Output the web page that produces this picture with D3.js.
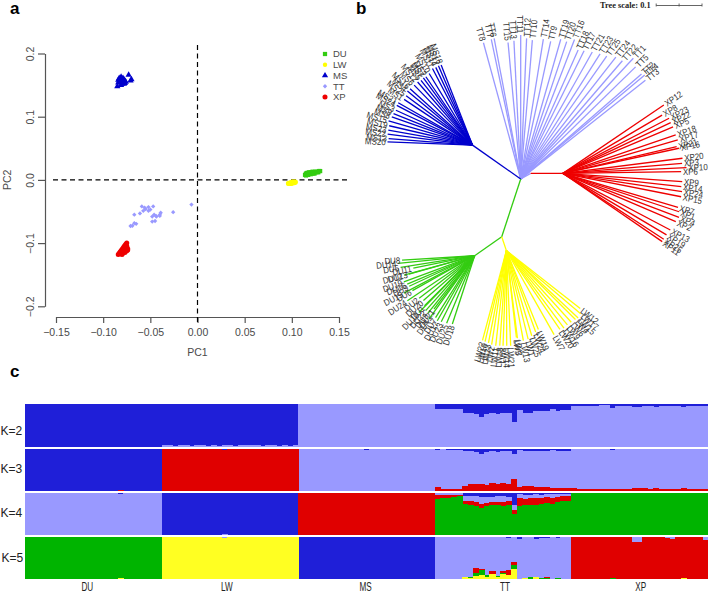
<!DOCTYPE html>
<html><head><meta charset="utf-8">
<script src="https://d3js.org/d3.v7.min.js"></script>
<style>html,body{margin:0;padding:0;background:#fff}svg{display:block}</style>
</head><body>
<svg id="c" width="708" height="592"></svg>
<script>
// ---------- panel a data (PC1, PC2) ----------
const pcTicksX=[-0.15,-0.10,-0.05,0,0.05,0.10,0.15];
const pcTicksY=[-0.2,-0.1,0,0.1,0.2];
const legendNames=["DU","LW","MS","TT","XP"];
const duX=[.114,.115,.115,.116,.116,.117,.117,.118,.118,.119,.119,.120,.120,.121,.122,.122,.123,.124,.124,.125,.126,.127,.128,.129,.130];
const duY=[.008,.010,.007,.009,.011,.008,.010,.009,.012,.010,.011,.009,.012,.011,.010,.013,.011,.012,.010,.013,.012,.013,.012,.014,.014];
const lwX=[.096,.096,.097,.097,.098,.098,.098,.099,.099,.099,.100,.100,.100,.100,.101,.101,.101,.102,.102,.102,.103,.103,.103,.104,.104];
const lwY=[-.006,-.005,-.006,-.005,-.006,-.005,-.004,-.006,-.005,-.004,-.006,-.005,-.004,-.003,-.005,-.004,-.003,-.005,-.004,-.003,-.004,-.003,-.005,-.003,-.004];
const msX=[-.085,-.084,-.083,-.083,-.082,-.082,-.081,-.081,-.081,-.080,-.080,-.080,-.079,-.079,-.079,-.078,-.078,-.078,-.077,-.077,-.076,-.073,-.071,-.070,-.084];
const msY=[.148,.154,.157,.161,.155,.158,.150,.154,.163,.152,.156,.160,.154,.158,.161,.152,.156,.159,.153,.157,.155,.166,.157,.159,.158];
const ttX=[-.0064,-.0258,-.039,-.040,-.0435,-.046,-.048,-.045,-.048,-.047,-.052,-.059,-.052,-.0575,-.061,-.067,-.065,-.067,-.071,-.069,-.055,-.044,-.040,-.050,-.056];
const ttY=[-.039,-.051,-.052,-.057,-.058,-.055,-.058,-.065,-.066,-.042,-.043,-.042,-.049,-.049,-.053,-.055,-.0695,-.0685,-.073,-.0725,-.046,-.057,-.055,-.047,-.044];
const xpX=[-.084,-.083,-.082,-.081,-.081,-.080,-.080,-.079,-.079,-.079,-.078,-.078,-.078,-.077,-.077,-.077,-.076,-.076,-.076,-.075,-.075,-.075,-.074,-.074,-.080];
const xpY=[-.118,-.116,-.114,-.117,-.112,-.115,-.110,-.108,-.113,-.116,-.106,-.110,-.114,-.104,-.109,-.115,-.102,-.107,-.113,-.100,-.105,-.112,-.109,-.111,-.118];

// ---------- panel b data: branch angle (deg) and length (tree units) ----------
const treeScaleTicks=[0,0.05,0.1];
const ttLabels=["TT8","TT7","TT6","TT15","TT13","TT11","TT12","TT10","TT14","TT9","TT19","TT20","TT16","TT18","TT17","TT21","TT23","TT25","TT24","TT22","TT1","TT5","TT2","TT4","TT3"];
const ttAngles=[254.7,258.1,259.3,264.7,267.2,270,272.4,274.8,279.2,282.3,286,288.5,291.1,294,296.3,299.4,302.4,305,308,310.7,313,315.7,319,320,321.6];
const ttLengths=[.307,.310,.311,.298,.301,.313,.306,.303,.308,.306,.316,.315,.325,.307,.311,.317,.322,.326,.336,.339,.359,.349,.348,.352,.346];
const xpLabels=["XP12","XP8","XP23","XP22","XP5","XP18","XP17","XP21","XP16","XP20","XP3","XP10","XP6","XP9","XP14","XP24","XP15","XP7","XP1","XP4","XP2","XP13","XP19","XP25","XP11"];
const xpAngles=[325.9,329.6,332.6,334.8,337.1,341.2,343.8,346.8,347.8,352.8,355.2,357.4,359.2,4,6.4,8.7,11.2,16.5,18.3,20.8,23.2,27.8,30.7,33.2,34.5];
const xpLengths=[.265,.250,.260,.259,.260,.259,.260,.254,.258,.262,.260,.269,.257,.260,.259,.262,.262,.261,.266,.270,.267,.264,.262,.262,.262];
const msLabels=["MS20","MS13","MS22","MS23","MS19","MS15","MS8","MS9","MS3","MS24","MS21","MS1","MS25","MS4","MS16","MS6","MS12","MS5","MS7","MS2","MS10","MS11","MS14","MS17","MS18"];
const msAngles=[182.2,184.5,187.4,190.1,193.1,196.2,199.3,201.8,204.5,207.7,209.7,213.8,216.7,219.7,222.1,225.8,229,231.5,233.8,235.7,238.8,242.4,244.7,246.8,248.6];
const msLengths=[.185,.183,.186,.186,.186,.190,.186,.185,.183,.186,.186,.179,.180,.184,.183,.182,.182,.180,.181,.180,.182,.188,.187,.188,.187];
const duLabels=["DU8","DU14","DU5","DU11","DU12","DU13","DU19","DU16","DU9","DU15","DU6","DU24","DU2","DU20","DU1","DU10","DU22","DU3","DU21","DU4","DU7","DU17","DU23","DU25","DU18"];
const duAngles=[176.6,174.3,171,168.6,164.7,164.4,159.8,157.2,155,152.2,150.7,146.2,142.5,138.8,135,134.5,131.7,129.1,127.3,125.8,122.3,119.9,116.8,112.5,108.1];
const duLengths=[.158,.167,.163,.136,.159,.148,.164,.159,.157,.174,.155,.176,.152,.148,.154,.173,.160,.161,.146,.170,.159,.163,.161,.159,.156];
const lwLabels=["LW12","LW17","LW15","LW4","LW6","LW9","LW16","LW20","LW7","LW19","LW24","LW25","LW1","LW13","LW3","LW5","LW21","LW14","LW8","LW18","LW11","LW2","LW23","LW10","LW22"];
const lwAngles=[38.1,40.4,43.2,44.9,47.8,50.6,53.4,55.8,60.4,67.9,70.2,73.4,76.2,79.3,82.8,83.4,87.4,89.8,92,94,96.4,98.9,101,103.2,104.9];
const lwLengths=[.204,.212,.214,.212,.210,.209,.210,.207,.210,.185,.188,.193,.198,.199,.192,.190,.207,.207,.207,.207,.208,.207,.204,.203,.202];
// internal branches: angle, length
const stemMS=[215.1,.128], stemTT=[330.5,.025], stemXP=[0,.070], stemGreen=[108.2,.132], stemDU=[144.9,.072], stemLW=[71.6,.032];

// ---------- panel c data: ancestry fractions, per population of 25 samples ----------
const groupNames=["DU","LW","MS","TT","XP"];
const groupLabelShift=[-6,-3,-1,2,1];
const kLabels=["K=2","K=3","K=4","K=5"];
const kLabelY=[431,469,513,558];
const none=Array(25).fill(0), full=Array(25).fill(1);
const k2LwLight=[.03,.03,.02,.03,.03,.02,.03,.03,.02,.03,.02,.03,.03,.02,.03,.03,.03,.03,.02,.03,.03,.02,.03,.02,.03];
const k2TtDark=[.10,.10,.10,.10,.10,.21,.21,.23,.29,.23,.21,.23,.21,.195,.41,.13,.195,.195,.17,.17,.155,.12,.155,.14,.13];
const k2XpDark=[.045,.04,.04,.04,.045,.025,.025,.08,.04,.04,.04,.07,.055,.05,.05,.07,.05,.05,.05,.05,.075,.04,.04,.04,.04];
const k3TtDark=[.02,.01,.02,.02,.02,.04,.06,.07,.13,.07,.05,.07,.05,.05,.11,.03,.05,.05,.05,.05,.04,.03,.05,.04,.04];
const k3TtRed=[.095,.055,.055,.055,.06,.13,.16,.17,.16,.15,.19,.16,.19,.17,.29,.11,.13,.12,.11,.095,.095,.08,.08,.07,.07];
const k3XpRed=[.07,.06,.06,.055,.05,.05,.045,.06,.055,.05,.05,.065,.075,.07,.06,.065,.06,.055,.06,.05,.07,.06,.055,.05,.05];
const k3XpDark=[0,0,0,0,0,0,0,.02,0,0,0,0,0,0,0,0,0,0,0,0,0,0,0,0,0];
const k4TtDark=[0,0,0,0,0,.06,.08,.08,.10,.10,.10,.07,.08,.10,.28,.02,.05,.05,.03,.05,.03,.03,.03,.02,.02];
const k4TtLight=[.05,.05,.05,.05,.05,.12,.12,.14,.16,.13,.12,.14,.14,.10,.13,.10,.10,.07,.10,.07,.06,.09,.06,.06,.05];
const k4TtRed=[.09,.07,.06,.04,.02,.07,.08,.09,.09,.07,.07,.07,.08,.08,.08,.19,.14,.16,.15,.15,.14,.14,.12,.12,.12];
const k4XpLight=[0,0,0,0,0,0,0,.01,0,0,0,0,0,0,0,0,0,0,0,0,.01,0,0,0,0];
const k4XpRed=[0,0,0,0,0,0,0,0,0,0,0,0,.01,0,0,0,0,0,0,0,0,0,0,0,0];
const k5TtDark=[0,0,0,0,0,0,0,0,0,0,0,0,0,.02,.01,.06,0,0,.05,.02,.02,0,.04,0,.01];
const k5TtRed=[0,0,0,0,0,0,0,.12,.04,0,.07,0,.04,.125,.06,0,0,0,0,0,.025,0,.01,0,0];
const k5TtGreen=[0,0,0,0,0,.01,.03,.06,.12,.03,0,.03,.03,0,.095,0,.01,.03,0,.02,.025,0,.02,0,0];
const k5TtYellow=[0,0,0,0,0,.04,.02,.08,.09,.06,.11,.05,.11,.09,.245,0,.02,.01,.04,0,0,0,0,0,0];
const k5XpLight=[0,0,.015,.015,0,0,0,0,0,0,0,.12,.12,0,0,0,0,.03,.05,0,0,0,0,0,.08];
const k5XpGreen=[0,0,0,0,0,0,0,.02,0,0,0,0,0,0,0,0,0,0,0,0,0,0,0,0,0];
const k5XpYellow=[0,0,0,0,0,0,0,0,0,0,0,0,0,0,0,0,0,0,0,0,.02,0,0,0,0];
const spot=(i,v)=>none.map((d,j)=>j===i?v:0);
// ---------- styles ----------
const cDU="#33cc11",cLW="#ffff00",cMS="#0000cc",cTT="#9999ff",cXP="#ee0000";
const sDark="#1f1fd8",sLight="#9999ff",sRed="#e00000",sGreen="#00b400",sYellow="#ffff22";
const sans="'Liberation Sans',Arial,sans-serif";

const svg=d3.select("#c").style("font-family",sans);
[["a",10,14],["b",356,14],["c",10,377]].forEach(([t,x,y])=>svg.append("text").attr("x",x).attr("y",y).attr("font-size",17).attr("font-weight","bold").text(t));

// ========== panel a ==========
const px=d3.scaleLinear([-0.15,0.15],[56,339]);
const py=d3.scaleLinear([-0.2,0.2],[306.3,53.5]);
const axisCol="#555", txtCol="#4a4a4a";
const ax=svg.append("g").attr("transform","translate(0,317)").call(d3.axisBottom(px).tickValues(pcTicksX).tickFormat(d3.format(".2f")).tickSize(6).tickSizeOuter(0));
const ay=svg.append("g").attr("transform","translate(45,0)").call(d3.axisLeft(py).tickValues(pcTicksY).tickFormat(d3.format(".1f")).tickSize(7).tickSizeOuter(0));
[ax,ay].forEach(g=>{g.selectAll("path,line").attr("stroke",axisCol).attr("stroke-width",1.2);
  g.selectAll("text").attr("fill",txtCol).attr("font-size",10.5).attr("font-family",sans);});
ax.selectAll("text").attr("y",12).attr("dy","0.71em");
ay.selectAll("text").attr("transform","rotate(-90)").attr("text-anchor","middle").attr("x",0).attr("y",-11).attr("dy",0);
svg.append("text").attr("x",px(0)).attr("y",356).attr("text-anchor","middle").attr("font-size",10.5).attr("fill",txtCol).text("PC1");
svg.append("text").attr("transform",`translate(11,${py(0)}) rotate(-90)`).attr("text-anchor","middle").attr("font-size",10.5).attr("fill",txtCol).text("PC2");
svg.append("line").attr("x1",px(0)).attr("x2",px(0)).attr("y1",45).attr("y2",322).attr("stroke","#000").attr("stroke-width",1.2).attr("stroke-dasharray","5,3.5");
svg.append("line").attr("x1",53).attr("x2",350).attr("y1",py(0)).attr("y2",py(0)).attr("stroke","#000").attr("stroke-width",1.2).attr("stroke-dasharray","5,3.5");
const pcaGroups=[
 {x:duX,y:duY,c:cDU,s:d3.symbolSquare,a:18},
 {x:lwX,y:lwY,c:cLW,s:d3.symbolCircle,a:15},
 {x:msX,y:msY,c:cMS,s:d3.symbolTriangle,a:17},
 {x:ttX,y:ttY,c:cTT,s:d3.symbolDiamond2||d3.symbolDiamond,a:12},
 {x:xpX,y:xpY,c:cXP,s:d3.symbolCircle,a:20}];
pcaGroups.forEach(g=>{
  svg.append("g").selectAll("path").data(g.x.map((d,i)=>[d,g.y[i]])).join("path")
    .attr("d",d3.symbol().type(g.s).size(g.a)).attr("fill",g.c)
    .attr("transform",d=>`translate(${px(d[0])},${py(d[1])})`);
});
const legY=d3.scalePoint(legendNames,[54,97]);
legendNames.forEach((n,i)=>{
  const g=pcaGroups[i];
  svg.append("path").attr("d",d3.symbol().type(g.s).size(g.a)).attr("fill",g.c).attr("transform",`translate(325,${legY(n)})`);
  svg.append("text").attr("x",333).attr("y",legY(n)).attr("dy","0.36em").attr("font-size",9.5).attr("fill",txtCol).text(n);
});

// ========== panel b ==========
const treeLen=d3.scaleLinear([0,0.1],[0,46]);
const rootPos=[520.7,179];
const step=(p,ang,len)=>{const r=treeLen(len),t=ang*Math.PI/180;return [p[0]+r*Math.cos(t),p[1]+r*Math.sin(t)];};
const tree=svg.append("g").attr("fill","none").attr("stroke-width",1.3);
const seg=(a,b,c)=>tree.append("line").attr("x1",a[0]).attr("y1",a[1]).attr("x2",b[0]).attr("y2",b[1]).attr("stroke",c);
function fan(node,labels,angles,lengths,col){
  labels.forEach((lab,i)=>{
    const tip=step(node,angles[i],lengths[i]);
    seg(node,tip,col);
    const a=((angles[i]%360)+360)%360, flip=a>90&&a<=270;
    const lp=step(tip,angles[i],0.004);
    svg.append("text").attr("transform",`translate(${lp[0]},${lp[1]}) rotate(${flip?a-180:a}) scale(.88,1)`)
      .attr("text-anchor",flip?"end":"start").attr("dy","0.36em").attr("font-size",9).attr("fill","#333").text(lab);
  });
}
const nMS=step(rootPos,...stemMS), nT=step(rootPos,...stemTT), nXP=step(nT,...stemXP),
      nG=step(rootPos,...stemGreen), nDU=step(nG,...stemDU), nLW=step(nG,...stemLW);
fan(rootPos,ttLabels,ttAngles,ttLengths,cTT);
seg(rootPos,nT,cTT);
fan(nMS,msLabels,msAngles,msLengths,cMS);
seg(rootPos,nMS,cMS);
fan(nXP,xpLabels,xpAngles,xpLengths,cXP);
seg(nT,nXP,cXP);
fan(nDU,duLabels,duAngles,duLengths,"#33cc11");
seg(rootPos,nG,"#33cc11"); seg(nG,nDU,"#33cc11");
fan(nLW,lwLabels,lwAngles,lwLengths,cLW);
seg(nG,nLW,cLW);
// tree scale
const barX=d3.scaleLinear([0,0.1],[655.7,701.5]);
svg.append("g").attr("transform","translate(0,5)").call(d3.axisBottom(barX).tickValues(treeScaleTicks).tickFormat("").tickSize(1.5).tickSizeOuter(0))
  .call(g=>{g.selectAll("path,line").attr("stroke","#555").attr("stroke-width",.9);
            g.selectAll("line").attr("y1",-1.5);});
svg.append("text").attr("x",600).attr("y",7.5).attr("font-family","'Liberation Serif',serif").attr("font-weight","bold").attr("font-size",8.4).attr("fill","#222").text("Tree scale: 0.1");

// ========== panel c ==========
const sampleNames=groupNames.flatMap(g=>d3.range(25).map(i=>g+i));
const sx=d3.scaleBand(sampleNames,[25,708]);
const kPanels=[
 {top:404.3,keys:["dark","light"],cols:{dark:sDark,light:sLight},
  groups:[{dark:full,light:none},{dark:k2LwLight.map(d=>1-d),light:k2LwLight},{dark:none,light:full},
          {dark:k2TtDark,light:k2TtDark.map(d=>1-d)},{dark:k2XpDark,light:k2XpDark.map(d=>1-d)}]},
 {top:448.9,keys:["dark","light","red"],cols:{dark:sDark,light:sLight,red:sRed},
  groups:[{dark:full.map((d,i)=>i===17?.97:1),light:none,red:spot(17,.03)},
          {dark:spot(11,.025),light:none,red:full.map((d,i)=>i===11?.975:1)},
          {dark:spot(12,.02),light:full.map((d,i)=>i===12?.98:1),red:none},
          {dark:k3TtDark,light:k3TtDark.map((d,i)=>1-d-k3TtRed[i]),red:k3TtRed},
          {dark:k3XpDark,light:k3XpRed.map((d,i)=>1-d-k3XpDark[i]),red:k3XpRed}]},
 {top:493,keys:["dark","light","red","green"],cols:{dark:sDark,light:sLight,red:sRed,green:sGreen},
  groups:[{dark:spot(17,.025),light:full.map((d,i)=>i===17?.975:1),red:none,green:none},
          {dark:full.map((d,i)=>i===11?.97:1),light:spot(11,.03),red:none,green:none},
          {dark:none,light:none,red:full,green:none},
          {dark:k4TtDark,light:k4TtLight,red:k4TtRed,green:k4TtDark.map((d,i)=>1-d-k4TtLight[i]-k4TtRed[i])},
          {dark:none,light:k4XpLight,red:k4XpRed,green:k4XpLight.map((d,i)=>1-d-k4XpRed[i])}]},
 {top:536.8,keys:["dark","light","red","green","yellow"],cols:{dark:sDark,light:sLight,red:sRed,green:sGreen,yellow:sYellow},
  groups:[{dark:none,light:none,red:none,green:full.map((d,i)=>i===17?.97:1),yellow:spot(17,.03)},
          {dark:none,light:spot(11,.02),red:none,green:spot(11,.02),yellow:full.map((d,i)=>i===11?.96:1)},
          {dark:full,light:none,red:none,green:none,yellow:none},
          {dark:k5TtDark,light:k5TtDark.map((d,i)=>1-d-k5TtRed[i]-k5TtGreen[i]-k5TtYellow[i]),red:k5TtRed,green:k5TtGreen,yellow:k5TtYellow},
          {dark:none,light:k5XpLight,red:k5XpLight.map((d,i)=>1-d-k5XpGreen[i]-k5XpYellow[i]),green:k5XpGreen,yellow:k5XpYellow}]}
];
const bandH=42.3;
kPanels.forEach((p,pi)=>{
  const rows=sampleNames.map((name,i)=>{
    const gi=Math.floor(i/25),si=i%25,r={name};
    p.keys.forEach(k=>r[k]=p.groups[gi][k][si]);
    return r;
  });
  const sy=d3.scaleLinear([0,1],[p.top,p.top+bandH]);
  const st=d3.stack().keys(p.keys)(rows);
  svg.append("g").attr("shape-rendering","crispEdges").selectAll("g").data(st).join("g").attr("fill",s=>p.cols[s.key])
    .selectAll("rect").data(s=>s.filter(d=>d[1]-d[0]>0)).join("rect")
    .attr("x",d=>sx(d.data.name)).attr("width",sx.bandwidth()+.6)
    .attr("y",d=>sy(d[0])).attr("height",d=>sy(d[1])-sy(d[0]));
  svg.append("text").attr("x",pi===3?1.5:0.5).attr("y",kLabelY[pi]).attr("dy","0.36em").attr("font-size",12).attr("fill","#222").text(kLabels[pi]);
});
groupNames.forEach((g,i)=>{
  const first=sx(g+"0"),w=sx.bandwidth()*25;
  svg.append("text").attr("transform",`translate(${first+w/2+groupLabelShift[i]},590.5) scale(.68,1)`).attr("text-anchor","middle")
    .attr("font-size",12).attr("fill","#222").text(g);
});
</script>
</body></html>
